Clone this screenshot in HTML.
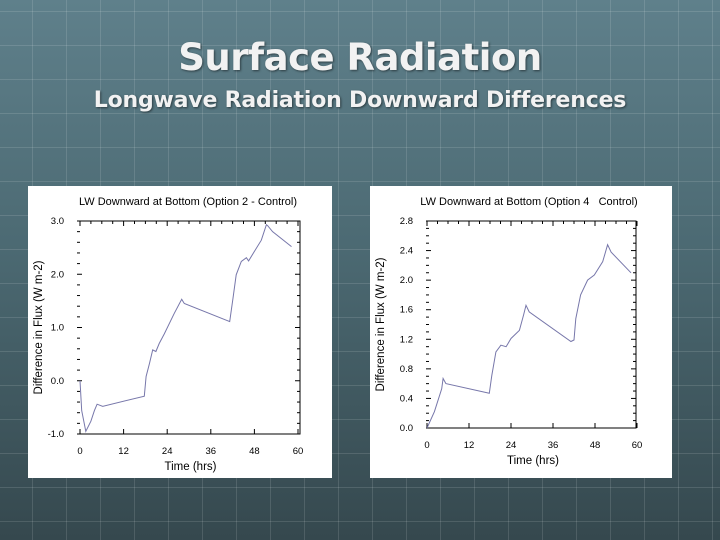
<!DOCTYPE html>
<html><head><meta charset="utf-8"><style>
body{margin:0;width:720px;height:540px;overflow:hidden;font-family:"Liberation Sans",sans-serif}
#slide{position:relative;width:720px;height:540px;background:linear-gradient(180deg,#5f808b 0%,#4c6a73 45%,#35484e 100%)}
#grid{position:absolute;inset:0;background-image:linear-gradient(90deg,rgba(255,255,255,.12) 1px,transparent 1px),linear-gradient(0deg,rgba(255,255,255,.12) 1px,transparent 1px);background-size:34px 34px;background-position:32px 12px}
.t{position:absolute;left:0;width:720px;text-align:center;color:#f2f2f2;font-family:"DejaVu Sans","Liberation Sans",sans-serif;font-weight:bold;text-shadow:1px 1px 2px rgba(0,0,0,.5)}
svg text{white-space:pre}
</style></head><body>
<div id="slide">
<div id="grid"></div>
<div class="t" style="top:36px;font-size:37px;letter-spacing:-0.5px">Surface Radiation</div>
<div class="t" style="top:88px;font-size:22px;letter-spacing:-0.2px">Longwave Radiation Downward Differences</div>
<svg id="svg" width="720" height="540" style="position:absolute;left:0;top:0"></svg>
</div>
<script>
const xTicks=[0,12,24,36,48,60];
const c1Times=[0,0.46,1.6,3,3.95,4.7,6.25,17.7,18.2,19.1,20,20.9,21.8,23.2,25.9,28,28.7,41.2,42.1,43,44.4,45.8,46.4,48,49.9,51.3,51.7,53,58.2];
const c1Values=[0,-0.56,-0.95,-0.76,-0.56,-0.44,-0.48,-0.29,0.08,0.32,0.58,0.55,0.7,0.88,1.26,1.53,1.45,1.11,1.55,1.99,2.24,2.31,2.25,2.43,2.64,2.93,2.91,2.8,2.52];
const c1YTicks=[-1.0,0.0,1.0,2.0,3.0];
const c2Times=[0,2.1,4.2,4.6,5.4,17.8,18.5,19.7,21.1,22.6,24,26.4,27.6,28.3,29.2,41.1,42,42.5,43.9,45.9,47.8,50.2,51.6,52.6,58.3];
const c2Values=[0,0.22,0.53,0.67,0.6,0.47,0.71,1.03,1.12,1.10,1.21,1.32,1.53,1.66,1.57,1.17,1.19,1.48,1.80,2.00,2.07,2.25,2.48,2.38,2.10];
const c2YTicks=[0.0,0.4,0.8,1.2,1.6,2.0,2.4,2.8];
const NS="http://www.w3.org/2000/svg",svg=document.getElementById('svg');
function mk(tag,at,parent){const e=document.createElementNS(NS,tag);for(const k in at)e.setAttribute(k,at[k]);(parent||svg).appendChild(e);return e;}
function chart(cfg){
 const g=mk('g',{});
 
 
 const bg=mk('rect',{x:cfg.bx,y:186,width:cfg.bw,height:292,fill:'#fff'},g);
 
 
 const X=v=>cfg.x0+(v-0)/60*(cfg.x1-cfg.x0);
 const Y=v=>cfg.yb+(v-cfg.ymin)/(cfg.ymax-cfg.ymin)*(cfg.yt-cfg.yb);
 const L=cfg.pl,R=cfg.pr,T=cfg.yt,B=cfg.yb;
 const ax=mk('path',{d:`M${L},${T}H${R}V${B}H${L}`,fill:'none',stroke:'#000','stroke-width':1},g);
 
 
 xTicks.forEach(v=>{
  mk('line',{x1:X(v),x2:X(v),y1:B,y2:B-5,stroke:'#000'},g);
  mk('line',{x1:X(v),x2:X(v),y1:T,y2:T+5,stroke:'#000'},g);
  const t=mk('text',{x:X(v),y:B+20,'font-size':9.5,'text-anchor':'middle',fill:'#000'},g);
  t.textContent=v;
  
  
 });
 for(let v=3;v<60;v+=3){if(v%12)mk('line',{x1:X(v),x2:X(v),y1:T,y2:T+3,stroke:'#000'},g);}
 cfg.yt2.forEach((v,i)=>{
  mk('line',{x1:L,x2:L+5,y1:Y(v),y2:Y(v),stroke:'#000'},g);
  mk('line',{x1:R,x2:R-5,y1:Y(v),y2:Y(v),stroke:'#000'},g);
  if(i<cfg.yt2.length-1){const st=(cfg.yt2[1]-cfg.yt2[0])/(cfg.minor+1);
   for(let k=1;k<=cfg.minor;k++){const y=Y(v+st*k);mk('line',{x1:L,x2:L+3,y1:y,y2:y,stroke:'#000'},g);mk('line',{x1:R,x2:R-3,y1:y,y2:y,stroke:'#000'},g);}}
  const t=mk('text',{x:L-13,y:Y(v)+3,'font-size':9.5,'text-anchor':'end',fill:'#000'},g);
  t.textContent=v.toFixed(1);
  
  
 });
 const d=cfg.t.map((tt,i)=>(i?'L':'M')+X(tt).toFixed(1)+','+Y(cfg.v[i]).toFixed(1)).join('');
 const ln=mk('path',{d,fill:'none',stroke:'#7777aa','stroke-width':1},g);
 
 
 const ti=mk('text',{x:cfg.bx+cfg.bw/2+8,y:205,'font-size':11,'text-anchor':'middle',fill:'#000'},g);
 ti.textContent=cfg.title;
 
 
 const xl=mk('text',{x:(L+R)/2+2,y:B+36,'font-size':11.5,'text-anchor':'middle',fill:'#000'},g);
 xl.textContent='Time (hrs)';
 
 
 const yl=mk('text',{x:0,y:0,'font-size':11.5,'text-anchor':'middle',fill:'#000',transform:`translate(${cfg.bx+14},${(T+B)/2}) rotate(-90)`},g);
 yl.textContent='Difference in Flux (W m-2)';
 
 
}
chart({name:'chart-option2',bx:28,bw:304,pl:77,pr:300,x0:80,x1:298,yt:221,yb:434,ymin:-1,ymax:3,yt2:c1YTicks,minor:4,t:c1Times,v:c1Values,title:'LW Downward at Bottom (Option 2 - Control)'});
chart({name:'chart-option4',bx:370,bw:302,pl:426,pr:636,x0:427,x1:637,yt:221,yb:428,ymin:0,ymax:2.8,yt2:c2YTicks,minor:3,t:c2Times,v:c2Values,title:'LW Downward at Bottom (Option 4   Control)'});
</script>
</body></html>
